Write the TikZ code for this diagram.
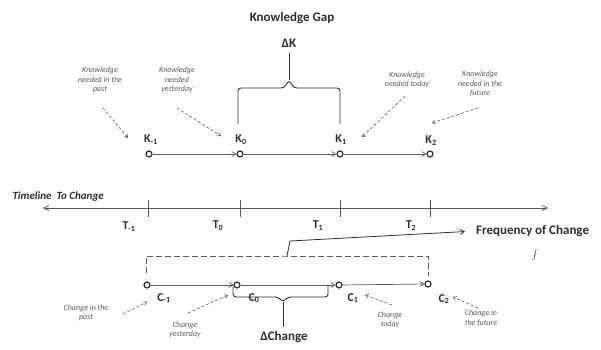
\documentclass[tikz,border=0pt]{standalone}
\usepackage{fontspec}
\setmainfont{Carlito}
\usetikzlibrary{arrows.meta}
\definecolor{ink}{RGB}{45,45,45}
\definecolor{soft}{RGB}{90,90,90}
\tikzset{
  pt/.style={circle,draw=ink,line width=1.2pt,inner sep=0pt,minimum size=6pt},
  lab/.style={font=\bfseries\fontsize{12}{12}\selectfont,text=ink,inner sep=1pt},
  note/.style={font=\itshape\fontsize{8}{9.5}\selectfont,text=soft,align=center,inner sep=1pt},
  flow/.style={draw=soft,line width=0.7pt,-{Straight Barb[length=4pt,width=5pt]}},
  hint/.style={draw=soft,densely dashed,line width=0.6pt,-{Straight Barb[length=3pt,width=4pt]}},
  brace/.style={draw=ink,line width=0.9pt,rounded corners=3pt},
  tick/.style={draw=soft,line width=0.6pt},
  big/.style={font=\bfseries\fontsize{13}{13}\selectfont,text=ink,inner sep=1pt},
}
\begin{document}
\begin{tikzpicture}[x=1pt,y=-1pt]
\useasboundingbox (0,0) rectangle (601,349);

% knowledge row
\node[pt] (k1) at (149,154) {};
\node[pt] (k0) at (240,154) {};
\node[pt] (kA) at (340,154) {};
\node[pt] (k2) at (430,154) {};
\draw[flow] (k1) -- (k0);
\draw[flow] (k0) -- (kA);
\draw[flow] (kA) -- (k2);
\node[lab] (lk1) at (151,140) {K\textsubscript{-1}};
\node[lab] (lk0) at (241,140) {K\textsubscript{0}};
\node[lab] (lkA) at (341,140) {K\textsubscript{1}};
\node[lab] (lk2) at (431,141) {K\textsubscript{2}};

% knowledge gap brace
\node[big] (gap) at (292,18) {Knowledge Gap};
\node[big] (dk) at (289,43) {ΔK};
\draw[brace] (238,124) -- (238,88) -- (284,88) -- (289,80) -- (294,88) -- (340,88) -- (340,124);
\draw[brace,rounded corners=0pt] (289,80) -- (289,53);

% knowledge notes
\node[note] (n1) at (100,80) {Knowledge\\needed in the\\past};
\node[note] (n2) at (177,80) {Knowledge\\needed\\yesterday};
\node[note] (n3) at (407,80) {Knowledge\\needed today};
\node[note] (n4) at (480,84) {Knowledge\\needed in the\\future};
\draw[hint] (103,108) -- (128,138);
\draw[hint] (177,108) -- (221,136);
\draw[hint] (405,96) -- (362,137);
\draw[hint] (478,108) -- (432,123);

% timeline
\coordinate (tl) at (43,208);
\coordinate (tr) at (548,208);
\draw[draw=soft,line width=0.8pt,{Straight Barb[length=5pt,width=5pt]}-{Straight Barb[length=5pt,width=5pt]}] (tl) -- (tr);
\node[font=\bfseries\itshape\fontsize{11}{11}\selectfont,text=ink,anchor=west] (tlab) at (9,197) {Timeline\ \ To Change};
\foreach \x in {148,240,340,430}{
  \draw[tick] (\x,200) -- (\x,217);
}
\node[lab] (t1) at (129,227) {T\textsubscript{-1}};
\node[lab] (t0) at (218,226) {T\textsubscript{0}};
\node[lab] (tA) at (318,226) {T\textsubscript{1}};
\node[lab] (t2) at (411,226) {T\textsubscript{2}};

% change row
\node[pt] (c1) at (147,285) {};
\node[pt] (c0) at (237,285) {};
\node[pt] (cA) at (339,285) {};
\node[pt] (c2) at (428,284) {};
\draw[flow] (c1) -- (c0);
\draw[flow] (c0) -- (cA);
\draw[flow] (cA) -- (c2);
\node[lab] (lc1) at (164,298) {C\textsubscript{-1}};
\node[lab] (lc0) at (254,298) {C\textsubscript{0}};
\node[lab] (lcA) at (353,298) {C\textsubscript{1}};
\node[lab] (lc2) at (444,299) {C\textsubscript{2}};

% dashed span with frequency of change
\draw[draw=soft,line width=0.8pt,dash pattern=on 6pt off 3pt] (146,273) -- (146,256) -- (287,256) -- (428,256) -- (428,276);
\node[big,anchor=west] (freq) at (475,231) {Frequency of Change};
\node[font=\fontsize{9}{9}\selectfont,text=ink,inner sep=0pt] (intg) at (535,255) {$\int$};
\draw[draw=ink,line width=0.8pt,-{Straight Barb[length=4pt,width=5pt]},shorten >=10pt] (287,256) -- (290,241) -- (freq.west);

% change gap brace
\draw[brace] (233,285) -- (233,297) -- (278,297) -- (283,302) -- (288,297) -- (328,297) -- (328,285);
\draw[brace,rounded corners=0pt] (283,302) -- (283,327);
\node[big] (dc) at (284,337) {ΔChange};

% change notes
\node[note] (m1) at (86,313) {Change in the\\past};
\node[note] (m2) at (185,330) {Change\\yesterday};
\node[note] (m3) at (390,320) {Change\\today};
\node[note] (m4) at (481,318) {Change in\\the future};
\draw[hint] (123,314) -- (147,302);
\draw[hint] (188,313) -- (228,295);
\draw[hint] (392,305) -- (365,295);
\draw[hint] (478,308) -- (453,297);
\end{tikzpicture}
\end{document}
